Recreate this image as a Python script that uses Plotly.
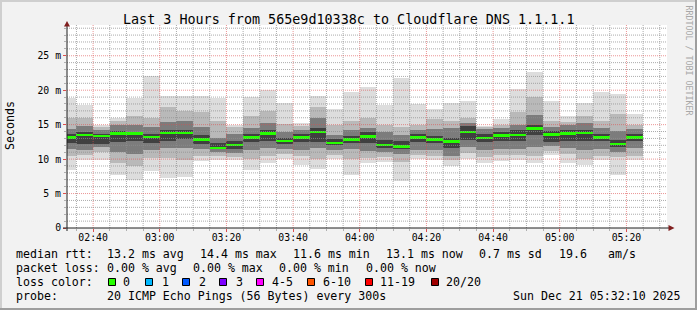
import plotly.graph_objects as go
import pandas as pd

# ---------------- data (in ms) ----------------
DAY = "2025-12-21"
slot_start = pd.date_range(f"{DAY} 02:30", periods=35, freq="5min")

median = [13.14, 13.48, 13.38, 13.72, 13.72, 13.24, 13.82, 13.82, 12.85, 11.60,
          11.98, 13.14, 13.72, 12.66, 13.14, 14.00, 12.37, 12.85, 13.28, 11.98,
          11.83, 13.14, 12.85, 12.56, 14.00, 13.00, 13.43, 13.53, 14.44, 13.57,
          13.72, 13.77, 13.14, 12.22, 13.14]
ping_min = [8.45, 9.8, 9.8, 7.7, 7.0, 8.3, 7.3, 7.4, 9.7, 9.8,
            9.8, 8.4, 9.5, 10.0, 9.2, 8.6, 10.0, 7.7, 9.4, 9.6,
            6.8, 10.0, 9.85, 9.0, 10.0, 9.4, 9.7, 9.85, 9.4, 10.6,
            9.4, 9.2, 9.85, 7.7, 9.85]
ping_max = [18.9, 17.9, 14.9, 15.9, 18.8, 22.1, 19.1, 19.1, 19.1, 18.9,
            14.9, 19.0, 20.0, 18.2, 15.2, 19.2, 17.3, 19.7, 20.5, 17.9,
            21.7, 18.0, 17.2, 18.2, 18.5, 14.8, 15.8, 20.2, 22.6, 18.5,
            16.3, 18.2, 19.7, 19.5, 16.6]
lo2 = [10.4, 10.6, 11.0, 9.4, 9.0, 10.1, 10.2, 9.9, 10.5, 10.4,
       10.3, 10.0, 10.5, 10.7, 10.4, 10.0, 10.6, 10.0, 10.2, 10.3,
       9.6, 10.6, 10.5, 9.9, 10.9, 10.3, 10.6, 10.6, 10.5, 11.2,
       10.7, 10.0, 10.4, 10.3, 10.5]
hi2 = [15.9, 15.9, 14.6, 15.5, 16.3, 16.0, 17.6, 17.0, 16.8, 15.5,
       14.6, 16.2, 17.0, 15.1, 14.8, 17.6, 14.9, 15.5, 16.0, 14.9,
       14.6, 15.0, 15.8, 15.6, 16.0, 14.6, 15.0, 16.8, 19.0, 15.5,
       15.4, 16.3, 15.6, 16.6, 15.0]
lo3 = [11.4, 11.3, 11.8, 11.0, 10.8, 11.3, 11.6, 11.6, 11.4, 11.0,
       10.9, 11.3, 11.6, 11.4, 11.3, 11.6, 11.3, 11.4, 11.2, 11.0,
       10.7, 11.3, 11.3, 10.5, 11.8, 11.3, 11.5, 11.5, 11.8, 11.9,
       11.6, 11.3, 11.4, 11.0, 11.6]
hi3 = [14.4, 14.8, 14.2, 14.9, 14.9, 14.6, 15.4, 15.5, 14.6, 13.1,
       13.7, 14.5, 15.2, 14.0, 14.2, 16.0, 13.5, 14.2, 14.5, 13.9,
       13.5, 14.2, 14.4, 14.5, 15.3, 14.3, 14.5, 15.0, 16.4, 14.6,
       14.9, 15.3, 14.5, 14.1, 14.3]
lo4 = [12.3, 12.2, 12.2, 12.5, 12.6, 12.4, 12.7, 12.9, 12.2, 11.4,
       11.5, 12.5, 12.7, 12.2, 12.5, 12.5, 12.0, 12.3, 12.4, 11.6,
       11.4, 12.5, 12.3, 11.6, 12.8, 12.5, 12.7, 12.7, 13.5, 12.5,
       12.7, 12.7, 12.6, 11.7, 12.6]
hi4 = [13.7, 13.9, 13.6, 14.1, 14.0, 13.7, 14.2, 14.2, 13.5, 12.3,
       12.6, 13.7, 14.2, 13.0, 13.6, 14.5, 12.9, 13.4, 13.9, 12.8,
       12.6, 13.6, 13.4, 13.0, 14.8, 13.6, 14.0, 14.2, 15.0, 14.1,
       14.2, 14.2, 13.6, 12.8, 13.7]

x_tick_labels = ["02:40", "03:00", "03:20", "03:40", "04:00", "04:20", "04:40", "05:00", "05:20"]
y_tick_vals = [0, 5, 10, 15, 20, 25]
y_tick_text = ["0", "5 m", "10 m", "15 m", "20 m", "25 m"]

title_text = "Last 3 Hours from 565e9d10338c to Cloudflare DNS 1.1.1.1"
loss_labels = ["0", "1", "2", "3", "4-5", "6-10", "11-19", "20/20"]
loss_colors = ["#26ff00", "#00b8ff", "#0059ff", "#7e00ff", "#ff00ff", "#ff5500", "#ff0000", "#a00000"]

# ---------------- geometry ----------------
W, H = 697, 310
L, R, T, B = 67, 667, 25, 228
PW, PH = R - L, B - T
X0 = f"{DAY} 02:32:10"
X1 = f"{DAY} 05:32:10"
FONT = "DejaVu Sans Mono"


def px(x):
    return (x - L) / PW


def py(y):
    return (B - y) / PH


fig = go.Figure()

centers = slot_start + pd.Timedelta(minutes=2.5)
BAR_W = 5 * 60 * 1000
layers = [(ping_min, ping_max, "#dddddd"),
          (lo2, hi2, "#b9b9b9"),
          (lo3, hi3, "#7c7c7c"),
          (lo4, hi4, "#404040")]
for lo, hi, col in layers:
    fig.add_trace(go.Bar(x=centers, y=[h - l for l, h in zip(lo, hi)], base=lo,
                         width=BAR_W, marker=dict(color=col, line=dict(width=0)),
                         hoverinfo="skip", showlegend=False))
band = 0.15
fig.add_trace(go.Bar(x=centers, y=[2 * band] * len(median), base=[m - band for m in median],
                     width=BAR_W, marker=dict(color=loss_colors[0], line=dict(width=0)),
                     hoverinfo="skip", showlegend=False))

shapes = []
MINOR = "rgba(143,143,143,0.75)"
MAJOR = "rgba(222,79,79,0.6)"
# vertical grid
for t in pd.date_range(f"{DAY} 02:35", f"{DAY} 05:30", freq="5min"):
    col = MAJOR if t.minute % 20 == 0 else MINOR
    shapes.append(dict(type="line", xref="x", yref="paper", x0=t, x1=t, y0=0, y1=1,
                       line=dict(color=col, width=1, dash="1px,1px"), layer="above"))
# horizontal grid
for v in range(1, 30):
    col = MAJOR if v % 5 == 0 else MINOR
    shapes.append(dict(type="line", xref="paper", yref="y", x0=0, x1=1, y0=v, y1=v,
                       line=dict(color=col, width=1, dash="1px,1px"), layer="above"))
# axes lines
AX = "#1f1f1f"
shapes.append(dict(type="line", xref="paper", yref="paper", x0=px(63), x1=px(670), y0=0, y1=0,
                   line=dict(color=AX, width=1), layer="above"))
shapes.append(dict(type="line", xref="paper", yref="paper", x0=0, x1=0, y0=py(231), y1=py(24),
                   line=dict(color=AX, width=1), layer="above"))
ARROW = "#801f1f"
shapes.append(dict(type="path", xref="paper", yref="paper",
                   path=f"M {px(64)} {py(26.5)} L {px(70)} {py(26.5)} L {px(67)} {py(21)} Z",
                   fillcolor=ARROW, line=dict(width=0), layer="above"))
shapes.append(dict(type="path", xref="paper", yref="paper",
                   path=f"M {px(668.5)} {py(225)} L {px(668.5)} {py(231)} L {px(674.5)} {py(228)} Z",
                   fillcolor=ARROW, line=dict(width=0), layer="above"))
# frame of the image
shapes.append(dict(type="rect", xref="paper", yref="paper", x0=px(0), x1=px(W), y0=py(0), y1=py(2),
                   fillcolor="#cfcfcf", line=dict(width=0)))
shapes.append(dict(type="rect", xref="paper", yref="paper", x0=px(0), x1=px(2), y0=py(0), y1=py(H),
                   fillcolor="#cfcfcf", line=dict(width=0)))
shapes.append(dict(type="rect", xref="paper", yref="paper", x0=px(0), x1=px(W), y0=py(H - 2), y1=py(H),
                   fillcolor="#9e9e9e", line=dict(width=0)))
shapes.append(dict(type="rect", xref="paper", yref="paper", x0=px(W - 2), x1=px(W), y0=py(0), y1=py(H),
                   fillcolor="#9e9e9e", line=dict(width=0)))
# loss colour boxes
box_left = [108.5, 145.5, 182.5, 219.5, 256.5, 307.5, 365.5, 431.5]
for bx, c in zip(box_left, loss_colors):
    shapes.append(dict(type="rect", xref="paper", yref="paper", x0=px(bx), x1=px(bx + 7),
                       y0=py(278.5), y1=py(285.5), fillcolor=c, line=dict(color="#000000", width=1)))

ann = []


def text(x, y, s, size=11.6, color="#000000", xanchor="left", angle=0):
    ann.append(dict(x=px(x), y=py(y), xref="paper", yref="paper", text=s, showarrow=False,
                    xanchor=xanchor, yanchor="middle", textangle=angle, borderpad=0, borderwidth=0,
                    font=dict(family=FONT, size=size, color=color)))


text(348, 19, title_text, size=13.4, xanchor="center")
text(10, 126, "Seconds", size=11.6, xanchor="center", angle=-90)
text(688.5, 60, "RRDTOOL / TOBI OETIKER", size=8.3, color="#a8a8a8", xanchor="center", angle=90)

row1 = [(16, "median rtt:"), (107.3, "13.2 ms avg"), (200, "14.4 ms max"), (293.3, "11.6 ms min"),
        (386, "13.1 ms now"), (479.3, "0.7 ms sd"), (559, "19.6"), (607.7, "am/s")]
for x, s in row1:
    text(x, 254, s)
row2 = [(16, "packet loss:"), (107.3, "0.00 % avg"), (193.3, "0.00 % max"), (279.3, "0.00 % min"),
        (365.7, "0.00 % now")]
for x, s in row2:
    text(x, 268.3, s)
text(16, 282.3, "loss color:")
label_left = [123.3, 162.3, 199, 235.7, 272.3, 323.3, 380, 445.7]
for x, s in zip(label_left, loss_labels):
    text(x, 282.3, s)
text(16, 295.7, "probe:")
text(107.3, 295.7, "20 ICMP Echo Pings (56 Bytes) every 300s")
text(513.3, 295.7, "Sun Dec 21 05:32:10 2025")

fig.update_layout(
    width=W, height=H, autosize=False,
    margin=dict(l=L, r=W - R, t=T, b=H - B, pad=0),
    paper_bgcolor="#f2f2f2", plot_bgcolor="#ffffff",
    barmode="overlay", bargap=0, showlegend=False,
    shapes=shapes, annotations=ann,
    xaxis=dict(type="date", range=[X0, X1], showgrid=False, zeroline=False, showline=False,
               tickvals=[f"{DAY} {t}" for t in x_tick_labels], ticktext=x_tick_labels,
               ticks="outside", ticklen=3, tickcolor="#de4f4f", tickwidth=1,
               ticklabelstandoff=-3,
               tickfont=dict(family=FONT, size=9.8, color="#000000"),
               minor=dict(tickvals=list(pd.date_range(f"{DAY} 02:35", f"{DAY} 05:30", freq="5min")),
                          ticks="outside", ticklen=2, tickcolor="#b0b0b0", showgrid=False),
               fixedrange=True),
    yaxis=dict(range=[0, PH / 6.89], showgrid=False, zeroline=False, showline=False,
               tickvals=y_tick_vals, ticktext=y_tick_text,
               ticks="outside", ticklen=3, tickcolor="#de4f4f", tickwidth=1,
               tickfont=dict(family=FONT, size=9.8, color="#000000"),
               minor=dict(dtick=1, ticks="outside", ticklen=2, tickcolor="#b0b0b0", showgrid=False),
               fixedrange=True),
)

fig.write_html("out.html")
